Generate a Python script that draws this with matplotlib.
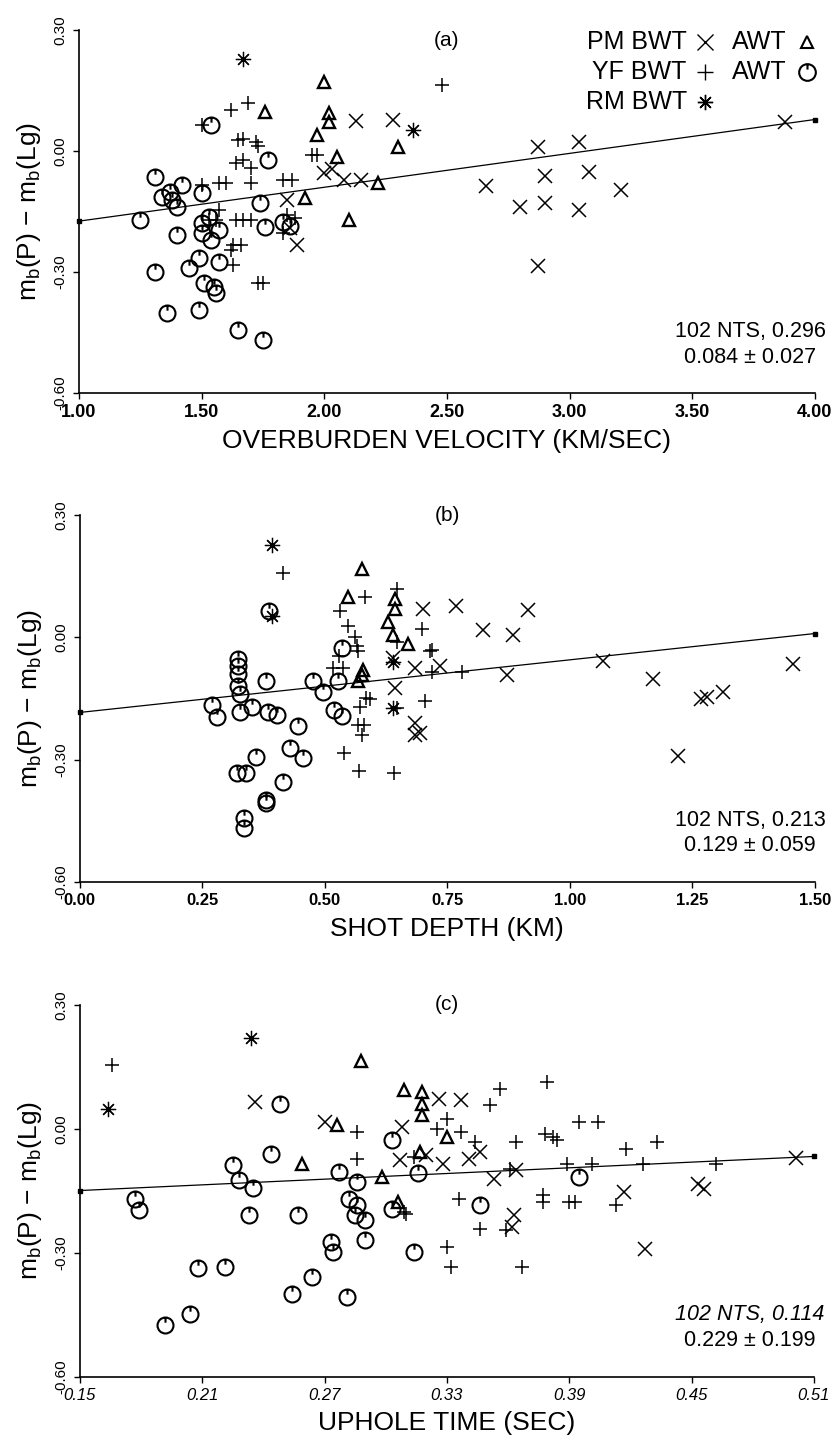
import numpy as np
import matplotlib
matplotlib.use("Agg")
import matplotlib.pyplot as plt
from matplotlib.path import Path

plt.rcParams['font.family'] = ['Liberation Sans', 'DejaVu Sans']
plt.rcParams['mathtext.fontset'] = 'custom'
plt.rcParams['mathtext.rm'] = 'Liberation Sans'
plt.rcParams['mathtext.it'] = 'Liberation Sans:italic'
plt.rcParams['axes.unicode_minus'] = False

# ---- panel (a): overburden velocity ----
pm_bwt_a_x = [3.88, 2.87, 3.04, 2.90, 3.08, 2.66, 3.21, 2.80, 2.90, 3.04, 2.87, 2.13, 2.28, 2.00, 2.03, 2.08, 2.15, 1.85, 1.86, 1.89]
pm_bwt_a_y = [0.072, 0.010, 0.022, -0.062, -0.052, -0.087, -0.097, -0.139, -0.129, -0.146, -0.285, 0.074, 0.077, -0.055, -0.045, -0.072, -0.072, -0.121, -0.19, -0.233]
pm_awt_a_x = [2.00, 2.02, 2.02, 1.76, 1.97, 2.30, 2.05, 2.22, 1.92, 2.10]
pm_awt_a_y = [0.171, 0.094, 0.072, 0.097, 0.040, 0.010, -0.015, -0.079, -0.116, -0.171]
rm_bwt_a_x = [1.67, 2.36]
rm_bwt_a_y = [0.228, 0.052]
yf_bwt_a_x = [1.62, 1.69, 1.50, 1.65, 1.67, 1.72, 1.73, 1.64, 1.67, 1.70, 1.70, 1.50, 1.57, 1.60, 1.83, 1.87, 1.95,
              1.97, 2.48, 1.57, 1.56, 1.64, 1.67, 1.70, 1.85, 1.88, 1.83, 1.63, 1.66, 1.62, 1.63, 1.73, 1.75, 1.53]
yf_bwt_a_y = [0.102, 0.119, 0.064, 0.027, 0.030, 0.022, 0.012, -0.030, -0.022, -0.042, -0.079, -0.084, -0.079, -0.079,
              -0.072, -0.072, -0.010, -0.010, 0.164, -0.146, -0.171, -0.171, -0.171, -0.171, -0.159, -0.166, -0.203,
              -0.233, -0.233, -0.245, -0.283, -0.327, -0.327, -0.172]
yf_awt_a_x = [1.31, 1.34, 1.37, 1.42, 1.38, 1.40, 1.50, 1.25, 1.74, 1.77, 1.54, 1.50, 1.53, 1.50, 1.54, 1.57, 1.40,
              1.76, 1.83, 1.49, 1.45, 1.31, 1.57, 1.51, 1.55, 1.56, 1.49, 1.36, 1.65, 1.75, 1.86]
yf_awt_a_y = [-0.064, -0.114, -0.101, -0.084, -0.121, -0.139, -0.104, -0.171, -0.129, -0.022, 0.064, -0.178, -0.164,
              -0.203, -0.221, -0.196, -0.208, -0.188, -0.176, -0.265, -0.290, -0.300, -0.275, -0.327, -0.337, -0.352,
              -0.394, -0.402, -0.444, -0.469, -0.186]

# ---- panel (b): shot depth ----
pm_bwt_b_x = [0.70, 0.767, 0.822, 0.884, 0.914, 0.735, 0.871, 1.067, 1.169, 1.267, 1.281, 1.312, 1.22, 1.455, 0.694,
              0.684, 0.643, 0.684, 0.684, 0.64]
pm_bwt_b_y = [0.069, 0.076, 0.017, 0.007, 0.066, -0.071, -0.091, -0.059, -0.103, -0.152, -0.145, -0.133, -0.29,
              -0.066, -0.234, -0.074, -0.123, -0.209, -0.239, -0.05]
pm_awt_b_x = [0.576, 0.547, 0.643, 0.643, 0.629, 0.639, 0.67, 0.576, 0.567, 0.578]
pm_awt_b_y = [0.167, 0.098, 0.093, 0.069, 0.037, 0.007, -0.017, -0.091, -0.108, -0.079]
rm_bwt_b_x = [0.392, 0.392, 0.639, 0.639]
rm_bwt_b_y = [0.226, 0.052, -0.061, -0.172]
yf_bwt_b_x = [0.414, 0.582, 0.531, 0.547, 0.561, 0.567, 0.516, 0.537, 0.585, 0.571, 0.567, 0.581, 0.539, 0.570,
              0.641, 0.647, 0.565, 0.592, 0.575, 0.698, 0.714, 0.718, 0.780, 0.704, 0.718, 0.647, 0.647, 0.529]
yf_bwt_b_y = [0.157, 0.098, 0.064, 0.027, 0.000, -0.034, -0.074, -0.074, -0.148, -0.170, -0.214, -0.214, -0.283,
              -0.327, -0.332, 0.118, -0.022, -0.152, -0.239, 0.020, -0.034, -0.086, -0.084, -0.157, -0.030, -0.012,
              -0.172, -0.045]
yf_awt_b_x = [0.322, 0.322, 0.322, 0.327, 0.269, 0.28, 0.351, 0.38, 0.327, 0.384, 0.402, 0.445, 0.429, 0.455, 0.359,
              0.32, 0.339, 0.414, 0.38, 0.38, 0.335, 0.335, 0.386, 0.475, 0.496, 0.527, 0.519, 0.536, 0.536, 0.322]
yf_awt_b_y = [-0.054, -0.071, -0.12, -0.14, -0.165, -0.194, -0.17, -0.108, -0.184, -0.184, -0.19, -0.218, -0.27,
              -0.295, -0.293, -0.332, -0.332, -0.354, -0.398, -0.406, -0.443, -0.467, 0.064, -0.106, -0.133, -0.108,
              -0.177, -0.192, -0.025, -0.09]

# ---- panel (c): uphole time ----
pm_bwt_c_x = [0.236, 0.270, 0.308, 0.307, 0.337, 0.326, 0.320, 0.328, 0.341, 0.346, 0.353, 0.364, 0.363, 0.362,
              0.501, 0.453, 0.456, 0.417, 0.427]
pm_bwt_c_y = [0.065, 0.017, 0.005, -0.075, 0.070, 0.073, -0.063, -0.085, -0.073, -0.056, -0.121, -0.099, -0.208,
              -0.237, -0.070, -0.133, -0.145, -0.153, -0.290]
pm_awt_c_x = [0.288, 0.259, 0.276, 0.298, 0.309, 0.306, 0.318, 0.318, 0.318, 0.330, 0.317]
pm_awt_c_y = [0.165, -0.085, 0.010, -0.116, 0.094, -0.177, 0.090, 0.060, 0.034, -0.020, -0.056]
rm_bwt_c_x = [0.164, 0.234]
rm_bwt_c_y = [0.048, 0.220]
yf_bwt_c_x = [0.166, 0.286, 0.286, 0.309, 0.356, 0.351, 0.330, 0.325, 0.337, 0.344, 0.364, 0.379, 0.378, 0.382,
              0.361, 0.314, 0.336, 0.346, 0.330, 0.332, 0.367, 0.377, 0.310, 0.359, 0.395, 0.404, 0.384, 0.418,
              0.433, 0.426, 0.462, 0.389, 0.401, 0.377, 0.393, 0.390, 0.413]
yf_bwt_c_y = [0.155, -0.007, -0.073, -0.200, 0.097, 0.058, 0.024, 0.000, -0.007, -0.031, -0.031, 0.114, -0.012,
              -0.019, -0.097, -0.068, -0.169, -0.242, -0.286, -0.334, -0.334, -0.177, -0.206, -0.245, 0.017, 0.017,
              -0.027, -0.048, -0.031, -0.085, -0.085, -0.085, -0.085, -0.160, -0.177, -0.177, -0.184]
yf_awt_c_x = [0.248, 0.244, 0.225, 0.228, 0.235, 0.277, 0.286, 0.282, 0.286, 0.285, 0.290, 0.303, 0.303, 0.290,
              0.273, 0.274, 0.264, 0.254, 0.281, 0.257, 0.233, 0.177, 0.179, 0.208, 0.221, 0.204, 0.192, 0.314,
              0.316, 0.346, 0.395]
yf_awt_c_y = [0.060, -0.060, -0.087, -0.123, -0.143, -0.104, -0.128, -0.169, -0.184, -0.208, -0.220, -0.027, -0.194,
              -0.269, -0.274, -0.298, -0.358, -0.400, -0.407, -0.208, -0.208, -0.169, -0.196, -0.337, -0.334, -0.448,
              -0.475, -0.298, -0.107, -0.184, -0.116]

# fit lines: (x at left end, intercept there, slope)
fit_a = (1.00, -0.174, 0.084)
fit_b = (0.00, -0.184, 0.129)
fit_c = (0.15, -0.149, 0.229)

xlabels = ["OVERBURDEN VELOCITY (KM/SEC)", "SHOT DEPTH (KM)", "UPHOLE TIME (SEC)"]
panel_tags = ["(a)", "(b)", "(c)"]
stats = [("102 NTS, 0.296", "0.084 \u00b1 0.027"),
         ("102 NTS, 0.213", "0.129 \u00b1 0.059"),
         ("102 NTS, 0.114", "0.229 \u00b1 0.199")]
xticks = [[1.00, 1.50, 2.00, 2.50, 3.00, 3.50, 4.00],
          [0.00, 0.25, 0.50, 0.75, 1.00, 1.25, 1.50],
          [0.15, 0.21, 0.27, 0.33, 0.39, 0.45, 0.51]]
yticks = [-0.60, -0.30, 0.00, 0.30]

# circle with a small tick at the top (the YF "AWT" symbol)
circ_tick = Path.make_compound_path(Path.unit_circle(), Path([[0, 1], [0, 0.35]]))
star = (8, 2, 0)

data = [
    (pm_bwt_a_x, pm_bwt_a_y, pm_awt_a_x, pm_awt_a_y, rm_bwt_a_x, rm_bwt_a_y, yf_bwt_a_x, yf_bwt_a_y, yf_awt_a_x, yf_awt_a_y, fit_a),
    (pm_bwt_b_x, pm_bwt_b_y, pm_awt_b_x, pm_awt_b_y, rm_bwt_b_x, rm_bwt_b_y, yf_bwt_b_x, yf_bwt_b_y, yf_awt_b_x, yf_awt_b_y, fit_b),
    (pm_bwt_c_x, pm_bwt_c_y, pm_awt_c_x, pm_awt_c_y, rm_bwt_c_x, rm_bwt_c_y, yf_bwt_c_x, yf_bwt_c_y, yf_awt_c_x, yf_awt_c_y, fit_c),
]

# axes boxes in figure fractions (left, bottom, width, height)
boxes = [(0.094, 0.7275, 0.876, 0.2517),
         (0.095, 0.3883, 0.875, 0.2545),
         (0.095, 0.0451, 0.874, 0.2580)]

fig = plt.figure(figsize=(8.4, 14.42), dpi=100)

for i in range(3):
    ax = fig.add_axes(boxes[i])
    pbx, pby, pax, pay, rbx, rby, ybx, yby, yax, yay, fit = data[i]
    k = dict(color='k', linestyle='none', clip_on=False)
    ax.plot(pbx, pby, marker='x', ms=10, mew=1.1, **k)
    ax.plot(pax, pay, marker='^', ms=8.5, mew=1.7, mfc='none', **k)
    ax.plot(rbx, rby, marker=star, ms=11, mew=0.9, **k)
    ax.plot(ybx, yby, marker='+', ms=10.5, mew=1.1, **k)
    ax.plot(yax, yay, marker=circ_tick, ms=11.5, mew=1.5, mfc='none', **k)

    x0, b, m = fit
    xs = np.array([xticks[i][0], xticks[i][-1]])
    ax.plot(xs, b + m * (xs - x0), color='k', lw=0.9, marker='s', ms=2.5, clip_on=False, zorder=1)

    ax.set_xlim(xticks[i][0], xticks[i][-1])
    ax.set_ylim(-0.6, 0.3)
    ax.set_xticks(xticks[i])
    ax.set_yticks(yticks)
    xt_size = [13, 12, 12][i]
    ax.set_xticklabels(["%.2f" % v for v in xticks[i]], fontsize=xt_size,
                       style='italic' if i == 2 else 'normal', fontweight='bold' if i < 2 else 'normal')
    ax.set_yticklabels(["%.2f" % v for v in yticks], fontsize=11, rotation=90, va='center')
    ax.tick_params(axis='both', direction='out', length=4, width=1, pad=4)
    for s in ['top', 'right']:
        ax.spines[s].set_visible(False)
    for s in ['left', 'bottom']:
        ax.spines[s].set_linewidth(1.2)

    ax.set_xlabel(xlabels[i], fontsize=19, labelpad=6)
    ax.set_ylabel(r"m$_\mathrm{b}$(P) $-$ m$_\mathrm{b}$(Lg)", fontsize=19, labelpad=8)

    tag_y = 0.972 if i == 0 else 1.0
    ax.text(0.5, tag_y, panel_tags[i], transform=ax.transAxes, ha='center', va='center', fontsize=15)

    s1, s2 = stats[i]
    ax.text(0.912, 0.168, s1, transform=ax.transAxes, ha='center', va='center', fontsize=15.5,
            style='italic' if i == 2 else 'normal')
    ax.text(0.912, 0.099, s2, transform=ax.transAxes, ha='center', va='center', fontsize=15.5)

    if i == 0:
        # symbol key
        tr = ax.transAxes
        rows = [(0.967, "PM BWT", 'x', "AWT", '^'),
                (0.884, "YF BWT", '+', "AWT", circ_tick),
                (0.802, "RM BWT", star, None, None)]
        for yy, t1, m1, t2, m2 in rows:
            ax.text(0.826, yy, t1, transform=tr, ha='right', va='center', fontsize=18)
            ax.plot([0.851], [yy], transform=tr, color='k', marker=m1, ms=11, mew=1.0, mfc='none', clip_on=False)
            if t2:
                ax.text(0.887, yy, t2, transform=tr, ha='left', va='center', fontsize=18)
                ax.plot([0.989], [yy], transform=tr, color='k', marker=m2, ms=9 if m2 == '^' else 12,
                        mew=1.5, mfc='none', clip_on=False)

fig.savefig("out.png", dpi=100)
